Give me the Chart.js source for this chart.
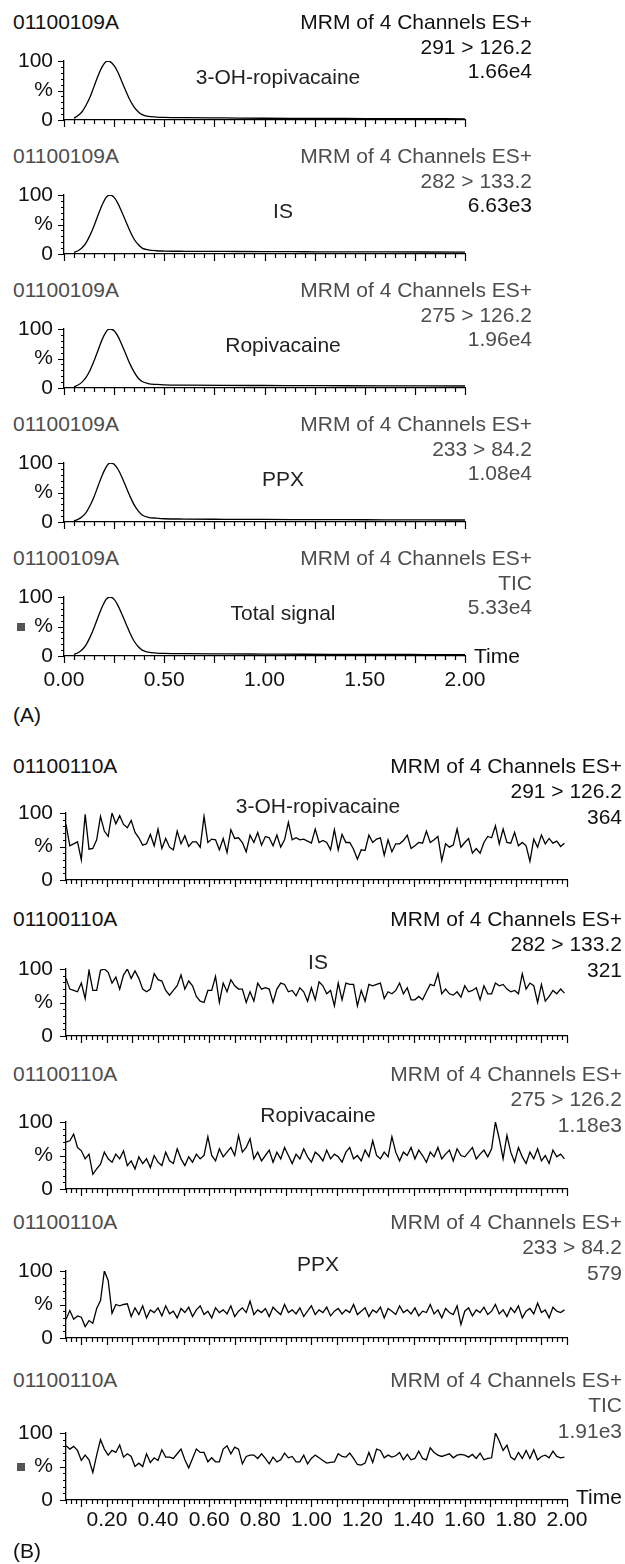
<!DOCTYPE html>
<html>
<head>
<meta charset="utf-8">
<script src="https://cdn.jsdelivr.net/npm/chart.js@4.4.1/dist/chart.umd.min.js"></script>
<style>
  html, body { margin: 0; padding: 0; background: #fff; }
  #page { position: relative; width: 625px; height: 1564px; overflow: hidden;
          font-family: "Liberation Sans", Arial, Helvetica, sans-serif; }
  #page canvas { position: absolute; left: 0; }
  .t { position: absolute; font-size: 21px; line-height: 24px; white-space: nowrap; }
  .sq { position: absolute; width: 8px; height: 8px; background: #555; }
</style>
</head>
<body>
<div id="page"></div>
<script>
/* MRM chromatograms, two injections (A) and (B) */

// ---- data ----
const sampleA = '01100109A';
const sampleB = '01100110A';
const scanMode = 'MRM of 4 Channels ES+';
const channels = ['291 > 126.2', '282 > 133.2', '275 > 126.2', '233 > 84.2', 'TIC'];
const compounds = ['3-OH-ropivacaine', 'IS', 'Ropivacaine', 'PPX', 'Total signal'];
const intensA = ['1.66e4', '6.63e3', '1.96e4', '1.08e4', '5.33e4'];
const intensB = ['364', '321', '1.18e3', '579', '1.91e3'];

const yTickText = { 0: '0', 50: '%', 100: '100' };
const xLabelsA = [0, 0.5, 1, 1.5, 2];
const xLabelsB = [0.2, 0.4, 0.6, 0.8, 1.0, 1.2, 1.4, 1.6, 1.8, 2.0];

// injection A: retention time (min) and relative response (%)
const timeA = [0.05, 0.07, 0.09, 0.11, 0.13, 0.15, 0.17, 0.19, 0.21, 0.22,
               0.23, 0.25, 0.27, 0.29, 0.31, 0.33, 0.35, 0.37, 0.39,
               0.42, 0.46, 0.50, 0.60, 0.80, 1.00, 1.20, 1.40, 1.60, 1.80, 2.00];
const aHydroxyRopi = [3, 7.5, 14, 25, 39, 57, 75, 90, 99, 100,
                      99, 92, 80, 64, 48, 33, 22, 14, 9,
                      6, 5, 4.5, 4, 3.5, 3, 2.8, 2.6, 2.4, 2.2, 2];
const aIS = [2.5, 5.5, 10.5, 19, 32, 48, 66, 83, 96, 99,
             100, 96, 85, 70, 54, 38, 25, 16, 10,
             7, 5.5, 5, 4.6, 4.3, 4, 3.8, 3.6, 3.5, 3.4, 3.3];
const aRopi = [2, 5, 10, 18, 30, 46, 64, 82, 95, 99,
               100, 97, 87, 72, 56, 40, 27, 17, 11,
               7.5, 6, 5.2, 4.8, 4.4, 4.2, 4, 3.8, 3.6, 3.5, 3.4];
const aPPX = [2, 4.5, 9, 16, 28, 43, 61, 79, 93, 98,
              100, 98, 89, 75, 59, 43, 29, 19, 12,
              8, 6.5, 5.5, 5, 4.6, 4.3, 4.1, 3.9, 3.7, 3.5, 3.4];
const aTotal = [2.5, 5.5, 10.5, 19, 32, 48, 66, 83, 96, 99,
                100, 96, 85, 70, 54, 38, 25, 16, 10,
                6.5, 5, 4.5, 4, 3.6, 3.3, 3, 2.8, 2.6, 2.5, 2.4];

// injection B (blank): noisy baselines
const timeB = [
  0.040, 0.055, 0.070, 0.085, 0.100, 0.115, 0.130, 0.145, 0.160, 0.175,
  0.190, 0.205, 0.220, 0.235, 0.250, 0.265, 0.280, 0.295, 0.310, 0.325,
  0.340, 0.355, 0.370, 0.385, 0.400, 0.415, 0.430, 0.445, 0.460, 0.475,
  0.490, 0.505, 0.520, 0.535, 0.550, 0.565, 0.580, 0.595, 0.610, 0.625,
  0.640, 0.655, 0.670, 0.685, 0.700, 0.715, 0.730, 0.745, 0.760, 0.775,
  0.790, 0.805, 0.820, 0.835, 0.850, 0.865, 0.880, 0.895, 0.910, 0.925,
  0.940, 0.955, 0.970, 0.985, 1.000, 1.015, 1.030, 1.045, 1.060, 1.075,
  1.090, 1.105, 1.120, 1.135, 1.150, 1.165, 1.180, 1.195, 1.210, 1.225,
  1.240, 1.255, 1.270, 1.285, 1.300, 1.315, 1.330, 1.345, 1.360, 1.375,
  1.390, 1.405, 1.420, 1.435, 1.450, 1.465, 1.480, 1.495, 1.510, 1.525,
  1.540, 1.555, 1.570, 1.585, 1.600, 1.615, 1.630, 1.645, 1.660, 1.675,
  1.690, 1.705, 1.720, 1.735, 1.750, 1.765, 1.780, 1.795, 1.810, 1.825,
  1.840, 1.855, 1.870, 1.885, 1.900, 1.915, 1.930, 1.945, 1.960, 1.975,
  1.990];
const bHydroxyRopi = [
  83, 51, 54, 57, 30, 98, 46, 47, 60, 95,
  73, 65, 100, 84, 96, 83, 78, 89, 71, 63,
  52, 54, 68, 51, 76, 47, 62, 49, 45, 73,
  54, 66, 50, 57, 57, 49, 95, 56, 61, 60,
  45, 62, 41, 75, 62, 63, 56, 42, 67, 56,
  71, 52, 65, 63, 51, 67, 49, 60, 86, 60,
  63, 60, 61, 58, 55, 76, 56, 59, 56, 45,
  75, 45, 68, 56, 56, 46, 31, 45, 44, 67,
  56, 61, 63, 37, 60, 42, 54, 54, 59, 67,
  47, 51, 56, 55, 73, 56, 60, 65, 29, 54,
  49, 52, 76, 49, 56, 62, 40, 47, 40, 56,
  65, 63, 81, 54, 76, 56, 55, 71, 51, 56,
  51, 28, 61, 49, 67, 54, 62, 55, 58, 50,
  55];
const bIS = [
  86, 70, 68, 66, 79, 56, 98, 68, 68, 98,
  100, 95, 79, 88, 70, 91, 100, 86, 97, 86,
  70, 66, 70, 93, 84, 82, 68, 61, 68, 75,
  91, 70, 82, 75, 59, 52, 50, 68, 68, 89,
  50, 79, 66, 84, 75, 70, 70, 50, 66, 52,
  79, 70, 72, 70, 50, 70, 79, 77, 66, 68,
  60, 72,
  66, 52, 72, 54, 81, 75, 63, 68, 45, 79,
  54, 79, 77, 77, 45, 68, 52, 77, 75, 77,
  79, 56, 66, 63, 68, 79, 63, 72, 54, 54,
  59, 54, 66, 77, 75, 93, 63, 70, 63, 61,
  66, 58,
  75, 66, 68, 72, 54, 75, 63, 63, 79, 75,
  77, 70, 66, 68, 63, 93, 70, 79, 75, 50,
  77, 52, 59, 68, 63, 70,
  64];
const bRopi = [
  70, 72, 82, 62, 57, 45, 52, 22, 30, 37, 55,
  45, 40, 52, 45, 57, 35, 42, 30, 48, 38,
  45, 32, 50, 40, 35, 55, 42, 38, 60, 45,
  35, 48, 40, 52, 45, 50, 78, 50, 42, 60,
  48, 55, 62, 50, 80, 55, 62, 75, 45, 55,
  42, 50, 58, 40, 55, 45, 62, 50, 38, 52,
  45, 60, 48, 40, 55, 50, 42, 58, 45, 52,
  48, 40, 55, 62, 45, 50, 42, 58, 48, 72,
  50, 45, 55, 48, 78, 55, 42, 55, 50, 62,
  45, 58, 50, 40, 55, 48, 62, 45, 52, 58,
  42, 60, 50, 48, 55, 62, 45, 52, 58, 48,
  60, 100, 75, 45, 80, 55, 40, 62, 48, 38,
  55, 45, 60, 42, 50, 38, 58, 48, 52, 45];
const bPPX = [
  28, 41, 28, 33, 31, 17, 26, 22, 44, 56, 100,
  86, 37, 50, 48, 50, 51, 32, 45, 35, 48,
  30, 42, 38, 45, 33, 48, 36, 40, 30, 44,
  38, 46, 32, 42, 48, 35, 40, 30, 45, 38,
  42, 36, 48, 32, 40, 45, 38, 55, 35, 42,
  38, 44, 32, 46, 40, 35, 50, 38, 42, 36,
  45, 32, 40, 48, 35, 42, 38, 46, 33, 40,
  44, 36, 42, 38, 50, 35, 40, 45, 32, 42,
  38, 46, 30, 44, 40, 35, 48, 38, 42, 36,
  45, 33, 40, 38, 50, 36, 42, 30, 44, 38,
  35, 48, 20, 40, 45, 33, 42, 38, 46, 35,
  40, 50, 36, 42, 32, 45, 38, 48, 30, 40,
  44, 36, 52, 38, 42, 30, 46, 40, 38, 42];
const bTotal = [
  81, 76, 80, 74, 59, 67, 60, 41, 67, 90,
  76, 67, 74, 71, 82, 64, 69, 65, 50, 55,
  50, 69, 56, 63, 59, 75, 64, 64, 62, 69,
  76, 60, 48, 62, 76, 71, 71, 57, 63, 57,
  57, 76, 81, 69, 79, 76, 54, 65, 67, 67,
  62, 69, 62, 54, 64, 57, 60, 70, 63, 65, 57,
  57, 67, 54, 62, 67, 63, 59, 55, 56, 57,
  69, 65, 64, 70, 62, 53, 52, 55, 71, 56, 76,
  74, 63, 67, 64, 66, 71, 60, 68, 60, 62, 73,
  62, 60, 78, 71, 67, 65, 67, 69, 63, 67, 68,
  67, 64, 68, 62, 70, 60, 62, 63,
  100, 88, 74, 82, 64, 60, 71, 62, 74, 62,
  75, 60, 65, 67, 63, 73, 65, 63, 64];

// ---- styling ----
const FONT = '"Liberation Sans", Arial, Helvetica, sans-serif';
const INK = '#111';
const GREY = '#4d4d4d';
const page = document.getElementById('page');

function addText(str, x, yc, align, color) {
  const d = document.createElement('div');
  d.className = 't';
  d.textContent = str;
  d.style.top = (yc - 12) + 'px';
  d.style.color = color || INK;
  if (align === 'right') d.style.right = (625 - x) + 'px';
  else if (align === 'center') { d.style.left = x + 'px'; d.style.transform = 'translateX(-50%)'; }
  else d.style.left = x + 'px';
  page.appendChild(d);
  return d;
}

function steps(a, b, s) {
  const out = [];
  for (let v = a; v <= b + 1e-9; v += s) out.push(+v.toFixed(3));
  return out;
}

// minor / major tick marks drawn off the chart's own scales
const tickMarks = {
  id: 'tickMarks',
  afterDraw(chart, args, o) {
    const { ctx, scales: { x, y } } = chart;
    ctx.save();
    ctx.strokeStyle = '#000';
    ctx.lineWidth = 1.2;
    ctx.beginPath();
    const xt = (list, len) => list.forEach(v => {
      const p = Math.round(x.getPixelForValue(v)) + 0.5;
      ctx.moveTo(p, y.bottom); ctx.lineTo(p, y.bottom + len);
    });
    const yt = (list, len) => list.forEach(v => {
      const p = Math.round(y.getPixelForValue(v)) + 0.5;
      ctx.moveTo(x.left, p); ctx.lineTo(x.left - len, p);
    });
    xt(o.xMinor, 4); xt(o.xMajor, 7);
    yt(o.yMinor, 3); yt(o.yMajor, 6);
    ctx.stroke();
    ctx.restore();
  }
};

function drawPanel(p) {
  const padTop = 14;
  const padBottom = p.showX ? 42 : 14;
  const canvas = document.createElement('canvas');
  canvas.width = 625;
  canvas.height = (p.zero - p.top) + padTop + padBottom;
  canvas.style.top = (p.top - padTop) + 'px';
  page.appendChild(canvas);

  const tickFont = { family: FONT, size: 21 };
  // invisible grid ticks only push the labels away from the axis line
  const spacer = { display: true, drawOnChartArea: false, drawTicks: true,
                   tickColor: 'rgba(0,0,0,0)' };
  new Chart(canvas, {
    type: 'line',
    data: {
      datasets: [{
        data: p.times.map((t, i) => ({ x: t, y: p.values[i] })),
        borderColor: '#000', borderWidth: 1.3, pointRadius: 0, fill: false,
        tension: p.smooth ? 0.4 : 0,
        cubicInterpolationMode: p.smooth ? 'monotone' : 'default',
      }]
    },
    options: {
      responsive: false, animation: false, devicePixelRatio: 1,
      layout: { padding: { top: padTop, left: 0, right: 625 - p.right, bottom: 0 } },
      plugins: {
        legend: { display: false }, tooltip: { enabled: false },
        tickMarks: { xMinor: p.xMinor, xMajor: p.xMajor, yMinor: steps(10, 90, 10), yMajor: [0, 50, 100] },
      },
      scales: {
        x: {
          type: 'linear', min: p.xMin, max: 2,
          afterFit: s => { s.height = padBottom; },
          afterBuildTicks: s => { s.ticks = p.xLabels.map(v => ({ value: v })); },
          grid: { ...spacer, tickLength: p.labelGap },
          border: { display: true, color: '#000', width: 1.3 },
          ticks: { display: p.showX, padding: 0, color: INK, font: tickFont,
                   maxRotation: 0, autoSkip: false, callback: v => Number(v).toFixed(2) },
        },
        y: {
          min: 0, max: 100,
          afterFit: s => { s.width = p.left; },
          grid: { ...spacer, tickLength: p.left - 53 },
          border: { display: true, color: '#000', width: 1.3 },
          ticks: { stepSize: 50, padding: 0, color: INK, font: tickFont,
                   autoSkip: false, callback: v => yTickText[v] },
        }
      }
    },
    plugins: [tickMarks]
  });
}

// ---- layout ----
const seriesA = [aHydroxyRopi, aIS, aRopi, aPPX, aTotal];
const seriesB = [bHydroxyRopi, bIS, bRopi, bPPX, bTotal];
const zeroA = [120, 254, 388, 522, 656];
const zeroB = [880, 1036, 1189, 1338, 1500];
const headB = [766, 919, 1074, 1222, 1380];
const colA = [[INK, INK, INK, INK], [GREY, GREY, GREY, INK], [GREY, GREY, GREY, GREY],
              [GREY, GREY, GREY, GREY], [GREY, GREY, GREY, GREY]];
const colB = [[INK, INK, INK, INK], [INK, INK, INK, INK], [GREY, GREY, GREY, GREY],
              [GREY, GREY, GREY, GREY], [GREY, GREY, GREY, GREY]];

seriesA.forEach((vals, i) => {
  const zero = zeroA[i], top = zero - 59;
  drawPanel({ times: timeA, values: vals, smooth: true, zero, top, left: 64, right: 465,
              xMin: 0, xLabels: xLabelsA, showX: i === 4, labelGap: 12,
              xMinor: steps(0, 2, 0.05), xMajor: steps(0, 2, 0.25) });
  const hy = zero - 98, c = colA[i];
  addText(sampleA, 13, hy, 'left', c[0]);
  addText(scanMode, 532, hy, 'right', c[1]);
  addText(channels[i], 532, hy + 25, 'right', c[2]);
  addText(intensA[i], 532, hy + 49, 'right', c[3]);
  addText(compounds[i], i === 0 ? 278 : 283, top + 16, 'center', '#222');
});

seriesB.forEach((vals, i) => {
  const zero = zeroB[i], top = zero - 67;
  drawPanel({ times: timeB, values: vals, smooth: false, zero, top, left: 66, right: 567,
              xMin: 0.04, xLabels: xLabelsB, showX: i === 4, labelGap: 8,
              xMinor: steps(0.04, 2, 0.02), xMajor: steps(0.1, 2, 0.1) });
  const hy = headB[i], c = colB[i];
  addText(sampleB, 13, hy, 'left', c[0]);
  addText(scanMode, 622, hy, 'right', c[1]);
  addText(channels[i], 622, hy + 25, 'right', c[2]);
  addText(intensB[i], 622, hy + 51, 'right', c[3]);
  if (i < 4) addText(compounds[i], 318, top - 7, 'center', '#222');
});

// bottom axis captions, panel letters, small markers
addText('Time', 474, zeroA[4], 'left', INK);
addText('Time', 576, zeroB[4] - 3, 'left', INK);
addText('(A)', 13, 715, 'left', INK);
addText('(B)', 13, 1551, 'left', INK);
[zeroA[4] - 29, zeroB[4] - 33].forEach(yc => {
  const s = document.createElement('div');
  s.className = 'sq';
  s.style.left = '17px';
  s.style.top = (yc - 4) + 'px';
  page.appendChild(s);
});
</script>
</body>
</html>
